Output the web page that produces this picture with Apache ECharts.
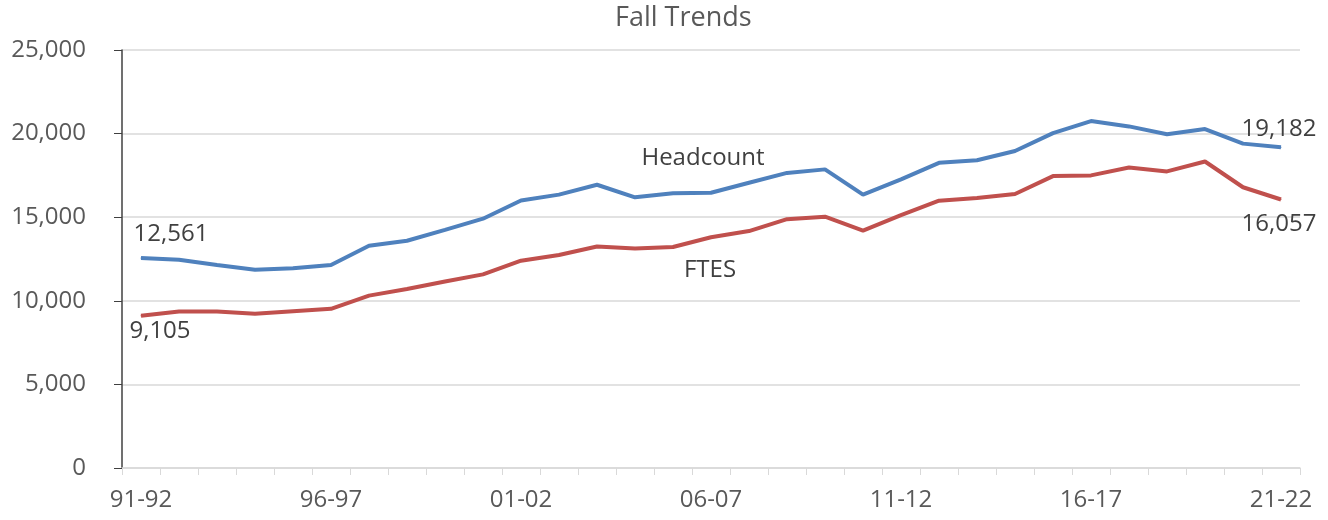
<!DOCTYPE html>
<html>
<head>
<meta charset="utf-8">
<script src="https://cdn.jsdelivr.net/npm/echarts@6/dist/echarts.min.js"></script>
<style>
  html, body { margin: 0; padding: 0; background: #fff; }
  #chart { width: 1328px; height: 520px; }
</style>
</head>
<body>
<div id="chart"></div>
<script>
// fall terms, 91-92 through 21-22
var years = ['91-92','92-93','93-94','94-95','95-96','96-97','97-98','98-99','99-00','00-01',
             '01-02','02-03','03-04','04-05','05-06','06-07','07-08','08-09','09-10','10-11',
             '11-12','12-13','13-14','14-15','15-16','16-17','17-18','18-19','19-20','20-21','21-22'];

var headcount = [12561, 12460, 12140, 11860, 11940, 12140, 13290, 13590, 14240, 14910,
                 16000, 16350, 16940, 16190, 16430, 16460, 17060, 17650, 17860, 16350,
                 17260, 18250, 18410, 18960, 20030, 20750, 20430, 19960, 20270, 19400, 19182];

var ftes = [9105, 9360, 9360, 9220, 9380, 9520, 10310, 10710, 11150, 11580,
            12400, 12740, 13250, 13130, 13220, 13800, 14170, 14880, 15030, 14200,
            15130, 15990, 16150, 16390, 17460, 17500, 17970, 17740, 18330, 16790, 16057];

var textColor = '#595959';
var fontFam = '"Open Sans", sans-serif';

function fmt(v) {
  return v.toLocaleString('en-US');
}

// first/last values get a number label, one point in the middle carries the series name
function withLabels(arr, above, nameIdx, nameDist, nameOff) {
  var last = arr.length - 1;
  return arr.map(function (v, i) {
    if (i === 0) {
      return { value: v, label: { show: true, formatter: fmt(v), position: above ? 'top' : 'bottom',
        distance: above ? 11 : 3, offset: above ? [30, 0] : [19, 0] } };
    }
    if (i === last) {
      return { value: v, label: { show: true, formatter: fmt(v), position: above ? 'top' : 'bottom',
        distance: above ? 6 : 12, offset: [-2, 0] } };
    }
    if (i === nameIdx) {
      return { value: v, label: { show: true, formatter: '{a}', position: above ? 'top' : 'bottom',
        distance: nameDist, offset: nameOff } };
    }
    return v;
  });
}

var chart = echarts.init(document.getElementById('chart'));

chart.setOption({
  backgroundColor: '#fff',
  animation: false,
  textStyle: { fontFamily: fontFam },
  title: {
    text: 'Fall Trends',
    left: 610,
    top: 0,
    textStyle: { color: textColor, fontSize: 27, fontWeight: 'normal', fontFamily: fontFam }
  },
  grid: { left: 122, right: 28, top: 50, bottom: 52 },
  xAxis: {
    type: 'category',
    data: years,
    boundaryGap: true,
    axisLine: { lineStyle: { color: '#d9d9d9', width: 1.5 } },
    axisTick: { show: true, interval: 0, length: 7, lineStyle: { color: '#d9d9d9' } },
    axisLabel: {
      interval: 4, color: textColor, fontSize: 24, margin: 20, fontFamily: fontFam,
      showMaxLabel: true
    },
    splitLine: { show: false }
  },
  yAxis: {
    type: 'value',
    min: 0,
    max: 25000,
    interval: 5000,
    axisLine: { show: true, lineStyle: { color: '#404040', width: 1.5 } },
    axisTick: { show: true, length: 8, lineStyle: { color: '#404040' } },
    axisLabel: {
      color: textColor, fontSize: 24, margin: 36, fontFamily: fontFam,
      formatter: function (v) { return fmt(v); }
    },
    splitLine: { lineStyle: { color: '#d9d9d9', width: 1.5 } }
  },
  series: [
    {
      name: 'Headcount',
      type: 'line',
      data: withLabels(headcount, true, 15, 22, [-8, 0]),
      symbol: 'circle',
      symbolSize: 1,
      showSymbol: true,
      lineStyle: { color: '#4f81bd', width: 4 },
      itemStyle: { color: '#4f81bd' },
      label: { color: '#404040', fontSize: 24, fontFamily: fontFam }
    },
    {
      name: 'FTES',
      type: 'line',
      data: withLabels(ftes, false, 15, 20, [-1, 0]),
      symbol: 'circle',
      symbolSize: 1,
      showSymbol: true,
      lineStyle: { color: '#c0504d', width: 4 },
      itemStyle: { color: '#c0504d' },
      label: { color: '#404040', fontSize: 24, fontFamily: fontFam }
    }
  ]
});
</script>
</body>
</html>
